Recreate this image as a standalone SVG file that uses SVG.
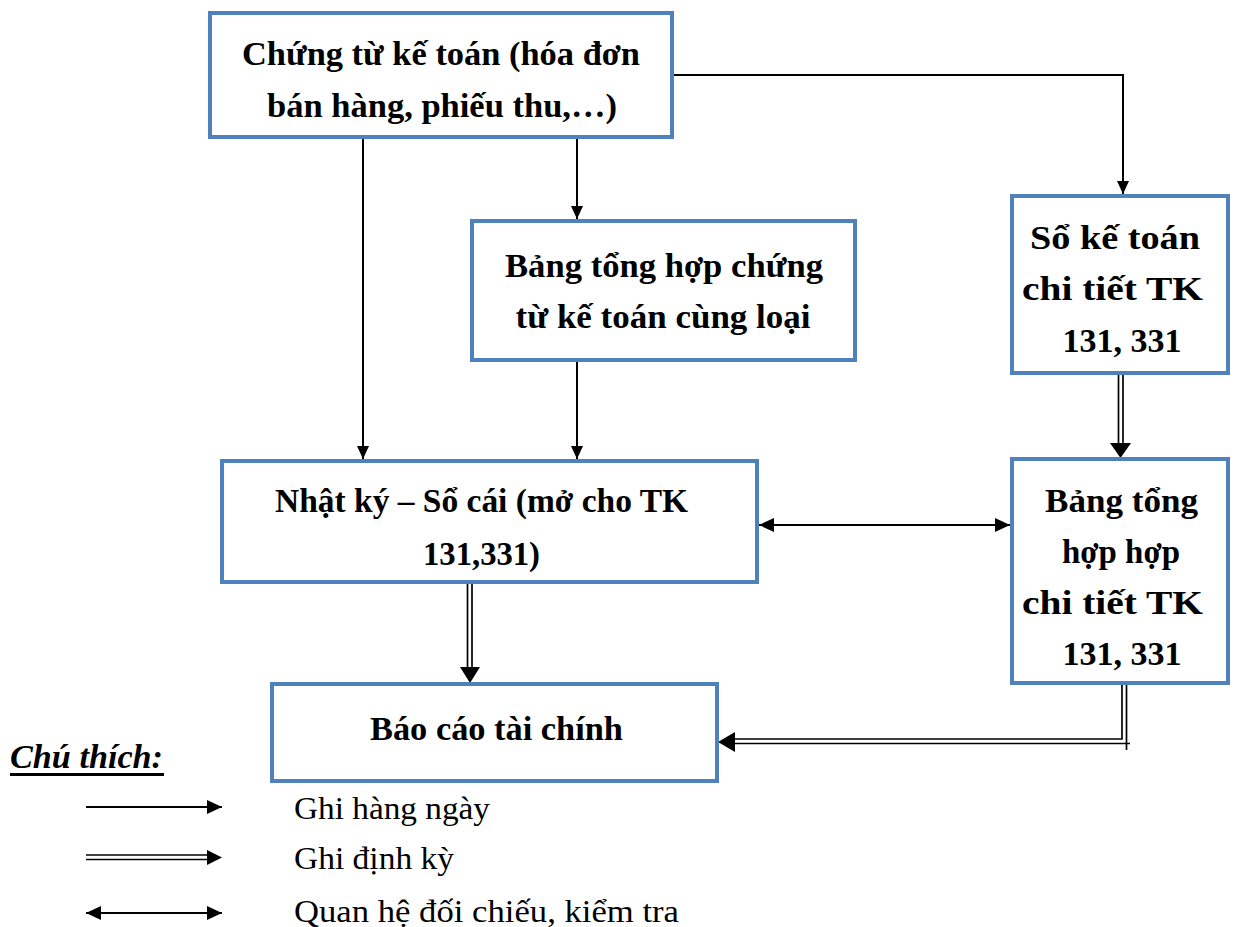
<svg xmlns="http://www.w3.org/2000/svg" width="1235" height="927" viewBox="0 0 1235 927">
  <style>
    .box { fill: #ffffff; stroke: #4F81BD; stroke-width: 4; }
    .lbl { font-family: "Liberation Serif", "Times New Roman", serif; font-weight: bold; font-size: 33px; fill: #000; text-anchor: middle; }
    .leg { font-family: "Liberation Serif", "Times New Roman", serif; font-size: 32px; fill: #000; }
    .ln { stroke: #000; stroke-width: 2; fill: none; }
    .dl { stroke: #000; stroke-width: 1.7; fill: none; }
    .head { fill: #000; }
  </style>
  <defs>
    <marker id="arr" viewBox="0 0 15 14" refX="15" refY="7" markerWidth="15" markerHeight="14" markerUnits="userSpaceOnUse" orient="auto-start-reverse">
      <path d="M0,0 L15,7 L0,14 Z" fill="#000"/>
    </marker>
    <marker id="arr-s" viewBox="0 0 13 12" refX="13" refY="6" markerWidth="13" markerHeight="12" markerUnits="userSpaceOnUse" orient="auto-start-reverse">
      <path d="M0,0 L13,6 L0,12 Z" fill="#000"/>
    </marker>
  </defs>

  <g id="connectors">
    <!-- daily entries -->
    <line class="ln" x1="363" y1="137" x2="363" y2="459" marker-end="url(#arr-s)"/>
    <line class="ln" x1="577" y1="137" x2="577" y2="219" marker-end="url(#arr-s)"/>
    <polyline class="ln" points="672,75 1123,75 1123,194" marker-end="url(#arr-s)"/>
    <line class="ln" x1="577" y1="360" x2="577" y2="459" marker-end="url(#arr-s)"/>
    <!-- reconciliation -->
    <line class="ln" x1="759" y1="525" x2="1010" y2="525" marker-start="url(#arr)" marker-end="url(#arr)"/>
    <!-- periodic entries (double lines) -->
    <line class="dl" x1="1118.5" y1="375" x2="1118.5" y2="446"/>
    <line class="dl" x1="1123" y1="375" x2="1123" y2="446"/>
    <path class="head" d="M1110,443 L1131,443 L1120.5,458 Z"/>
    <line class="dl" x1="467.5" y1="582" x2="467.5" y2="670"/>
    <line class="dl" x1="472" y1="582" x2="472" y2="670"/>
    <path class="head" d="M460,667 L480,667 L470,683 Z"/>
    <polyline class="dl" points="1122,684 1122,739 733,739"/>
    <polyline class="dl" points="1126.5,684 1126.5,750"/>
    <line class="dl" x1="733" y1="743.5" x2="1130" y2="743.5"/>
    <path class="head" d="M735,732 L735,752 L718,742 Z"/>
  </g>

  <g id="n-chungtu">
    <rect class="box" x="210" y="13" width="462" height="124"/>
    <text class="lbl" x="441" y="65" textLength="398" lengthAdjust="spacingAndGlyphs">Chứng từ kế toán (hóa đơn</text>
    <text class="lbl" x="442" y="117" textLength="350" lengthAdjust="spacingAndGlyphs">bán hàng, phiếu thu,…)</text>
  </g>

  <g id="n-banghop">
    <rect class="box" x="472" y="221" width="383" height="139"/>
    <text class="lbl" x="664" y="277" textLength="318" lengthAdjust="spacingAndGlyphs">Bảng tổng hợp chứng</text>
    <text class="lbl" x="663" y="328" textLength="295" lengthAdjust="spacingAndGlyphs">từ kế toán cùng loại</text>
  </g>

  <g id="n-sochitiet">
    <rect class="box" x="1012" y="196" width="216" height="177"/>
    <text class="lbl" x="1115" y="249" textLength="170" lengthAdjust="spacingAndGlyphs">Sổ kế toán</text>
    <text class="lbl" x="1112.5" y="300" textLength="181" lengthAdjust="spacingAndGlyphs">chi tiết TK</text>
    <text class="lbl" x="1122" y="352" textLength="119" lengthAdjust="spacingAndGlyphs">131, 331</text>
  </g>

  <g id="n-nhatky">
    <rect class="box" x="222" y="461" width="535" height="121"/>
    <text class="lbl" x="481.5" y="512" textLength="413" lengthAdjust="spacingAndGlyphs">Nhật ký – Sổ cái (mở cho TK</text>
    <text class="lbl" x="481.5" y="565" textLength="117" lengthAdjust="spacingAndGlyphs">131,331)</text>
  </g>

  <g id="n-tonghopchitiet">
    <rect class="box" x="1012" y="459" width="216" height="224"/>
    <text class="lbl" x="1121.5" y="512" textLength="153" lengthAdjust="spacingAndGlyphs">Bảng tổng</text>
    <text class="lbl" x="1121" y="563" textLength="118" lengthAdjust="spacingAndGlyphs">hợp hợp</text>
    <text class="lbl" x="1112.5" y="614" textLength="181" lengthAdjust="spacingAndGlyphs">chi tiết TK</text>
    <text class="lbl" x="1122" y="665" textLength="119" lengthAdjust="spacingAndGlyphs">131, 331</text>
  </g>

  <g id="n-baocao">
    <rect class="box" x="272" y="684" width="445" height="97"/>
    <text class="lbl" x="496.5" y="740" textLength="253" lengthAdjust="spacingAndGlyphs">Báo cáo tài chính</text>
  </g>

  <g id="legend">
    <text x="10" y="768" font-family="Liberation Serif, serif" font-size="34" font-weight="bold" font-style="italic" textLength="153" lengthAdjust="spacingAndGlyphs">Chú thích:</text>
    <line x1="10" y1="774.5" x2="164" y2="774.5" stroke="#000" stroke-width="3"/>
    <line class="ln" x1="86" y1="807" x2="222" y2="807" marker-end="url(#arr)"/>
    <line class="dl" x1="86" y1="855" x2="210" y2="855"/>
    <line class="dl" x1="86" y1="859.5" x2="210" y2="859.5"/>
    <path class="head" d="M207,850 L207,865 L222,857.5 Z"/>
    <line class="ln" x1="86" y1="913" x2="222" y2="913" marker-start="url(#arr)" marker-end="url(#arr)"/>
    <text class="leg" x="294" y="819" textLength="196" lengthAdjust="spacingAndGlyphs">Ghi hàng ngày</text>
    <text class="leg" x="294" y="869" textLength="160" lengthAdjust="spacingAndGlyphs">Ghi định kỳ</text>
    <text class="leg" x="294" y="922" textLength="385" lengthAdjust="spacingAndGlyphs">Quan hệ đối chiếu, kiểm tra</text>
  </g>
</svg>
